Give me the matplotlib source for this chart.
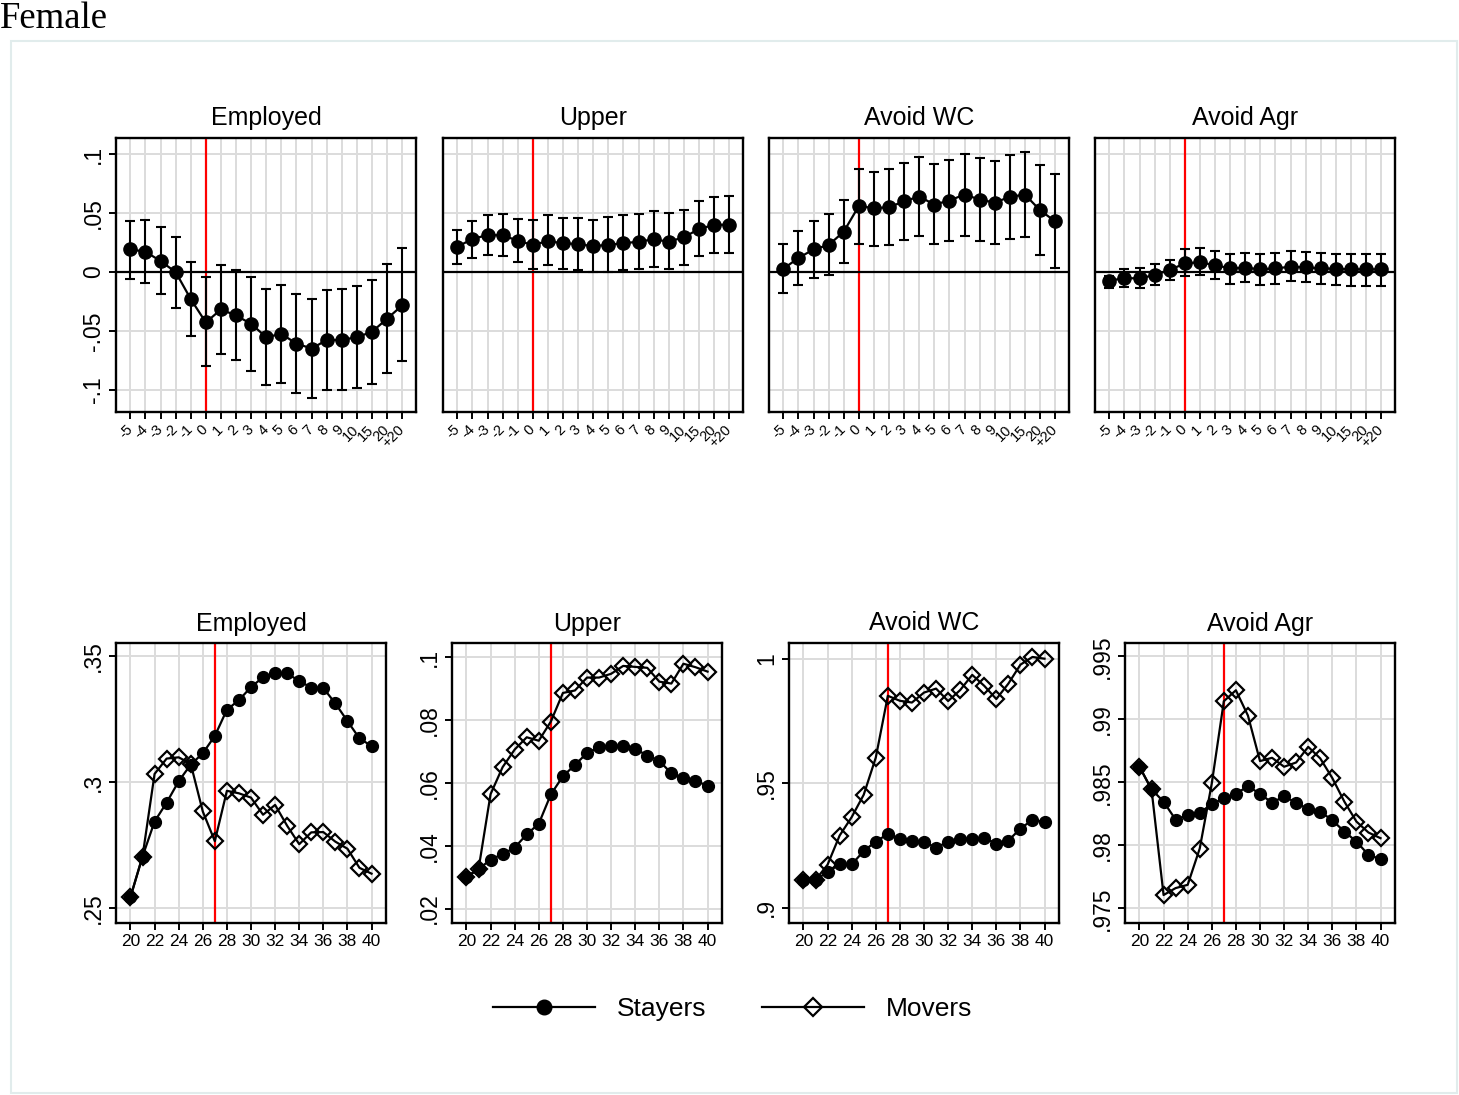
import matplotlib
matplotlib.use("Agg")
import matplotlib.pyplot as plt
from matplotlib.lines import Line2D
from matplotlib.patches import Rectangle
import numpy as np

plt.rcParams['font.family'] = ['Liberation Sans', 'DejaVu Sans']

# ---------------- data: event-study (top row) ----------------
event_labels = ['-5', '-4', '-3', '-2', '-1', '0', '1', '2', '3', '4', '5', '6', '7', '8',
                '9', '10', '15', '20', '+20']
top_titles = ['Employed', 'Upper', 'Avoid WC', 'Avoid Agr']

emp_coef = [0.0192, 0.0173, 0.0093, 0.0000, -0.0229, -0.0427, -0.0317, -0.0368, -0.0439, -0.0552,
            -0.0524, -0.0606, -0.0648, -0.0577, -0.0575, -0.0552, -0.0507, -0.0396, -0.0283]
emp_hi = [0.0436, 0.0444, 0.0379, 0.0300, 0.0085, -0.0040, 0.0059, 0.0017, -0.0040, -0.0144,
          -0.0113, -0.0187, -0.0229, -0.0156, -0.0144, -0.0116, -0.0071, 0.0065, 0.0204]
emp_lo = [-0.0057, -0.0096, -0.0190, -0.0306, -0.0543, -0.0792, -0.0696, -0.0747, -0.0838, -0.0957,
          -0.0937, -0.1024, -0.1070, -0.1002, -0.0996, -0.0979, -0.0945, -0.0852, -0.0756]

up_coef = [0.0215, 0.0280, 0.0314, 0.0311, 0.0266, 0.0229, 0.0263, 0.0243, 0.0238, 0.0218,
           0.0232, 0.0243, 0.0258, 0.0277, 0.0258, 0.0294, 0.0365, 0.0399, 0.0402]
up_hi = [0.0357, 0.0436, 0.0481, 0.0490, 0.0450, 0.0439, 0.0481, 0.0458, 0.0458, 0.0441,
         0.0464, 0.0481, 0.0492, 0.0518, 0.0498, 0.0526, 0.0600, 0.0634, 0.0642]
up_lo = [0.0071, 0.0122, 0.0142, 0.0133, 0.0082, 0.0023, 0.0057, 0.0028, 0.0014, 0.0000,
         0.0000, 0.0014, 0.0028, 0.0045, 0.0023, 0.0057, 0.0133, 0.0158, 0.0164]

wc_coef = [0.0028, 0.0119, 0.0192, 0.0229, 0.0342, 0.0560, 0.0541, 0.0549, 0.0600, 0.0640,
           0.0572, 0.0606, 0.0657, 0.0614, 0.0589, 0.0637, 0.0657, 0.0524, 0.0430]
wc_hi = [0.0238, 0.0348, 0.0436, 0.0490, 0.0608, 0.0877, 0.0852, 0.0872, 0.0928, 0.0976,
         0.0917, 0.0948, 0.1002, 0.0965, 0.0942, 0.0988, 0.1016, 0.0911, 0.0829]
wc_lo = [-0.0175, -0.0110, -0.0048, -0.0028, 0.0074, 0.0238, 0.0224, 0.0232, 0.0274, 0.0308,
         0.0235, 0.0260, 0.0306, 0.0266, 0.0235, 0.0283, 0.0297, 0.0144, 0.0037]

agr_coef = [-0.0074, -0.0051, -0.0054, -0.0025, 0.0017, 0.0074, 0.0082, 0.0059, 0.0031, 0.0037,
            0.0023, 0.0031, 0.0045, 0.0040, 0.0031, 0.0028, 0.0023, 0.0023, 0.0023]
agr_hi = [-0.0031, 0.0023, 0.0031, 0.0068, 0.0105, 0.0198, 0.0204, 0.0181, 0.0153, 0.0164,
          0.0150, 0.0161, 0.0181, 0.0170, 0.0164, 0.0156, 0.0156, 0.0156, 0.0156]
agr_lo = [-0.0139, -0.0125, -0.0139, -0.0113, -0.0068, -0.0034, -0.0025, -0.0059, -0.0099, -0.0088,
          -0.0108, -0.0099, -0.0074, -0.0088, -0.0099, -0.0108, -0.0119, -0.0119, -0.0119]

top_coefs = [emp_coef, up_coef, wc_coef, agr_coef]
top_his = [emp_hi, up_hi, wc_hi, agr_hi]
top_los = [emp_lo, up_lo, wc_lo, agr_lo]
top_yticks = [-0.1, -0.05, 0, 0.05, 0.1]
top_yticklabels = ['-.1', '-.05', '0', '.05', '.1']

# ---------------- data: age profiles (bottom row) ----------------
ages = list(range(20, 41))
bottom_titles = ['Employed', 'Upper', 'Avoid WC', 'Avoid Agr']

emp_stayers = [0.2544, 0.2705, 0.2844, 0.2919, 0.3004, 0.3070, 0.3115, 0.3184, 0.3288, 0.3326, 0.3378,
               0.3417, 0.3432, 0.3432, 0.3402, 0.3376, 0.3374, 0.3313, 0.3243, 0.3174, 0.3144]
emp_movers = [0.2544, 0.2705, 0.3033, 0.3094, 0.3099, 0.3073, 0.2884, 0.2766, 0.2966, 0.2956, 0.2939,
              0.2871, 0.2910, 0.2827, 0.2754, 0.2801, 0.2802, 0.2764, 0.2736, 0.2660, 0.2637]

up_stayers = [0.0301, 0.0325, 0.0356, 0.0373, 0.0394, 0.0436, 0.0470, 0.0563, 0.0621, 0.0657, 0.0695,
              0.0713, 0.0717, 0.0718, 0.0708, 0.0687, 0.0670, 0.0630, 0.0615, 0.0606, 0.0591]
up_movers = [0.0301, 0.0325, 0.0564, 0.0650, 0.0706, 0.0745, 0.0734, 0.0795, 0.0886, 0.0894, 0.0935,
             0.0935, 0.0947, 0.0972, 0.0969, 0.0966, 0.0922, 0.0916, 0.0979, 0.0968, 0.0954]

wc_stayers = [0.9112, 0.9112, 0.9144, 0.9174, 0.9174, 0.9228, 0.9266, 0.9296, 0.9277, 0.9268, 0.9265,
              0.9241, 0.9266, 0.9277, 0.9278, 0.9281, 0.9257, 0.9270, 0.9318, 0.9353, 0.9344]
wc_movers = [0.9112, 0.9112, 0.9173, 0.9290, 0.9364, 0.9454, 0.9603, 0.9851, 0.9831, 0.9824, 0.9864,
             0.9880, 0.9830, 0.9874, 0.9935, 0.9891, 0.9838, 0.9900, 0.9976, 1.0007, 1.0000]

agr_stayers = [0.98624, 0.98445, 0.98347, 0.98204, 0.98239, 0.98257, 0.98329, 0.98373, 0.98408, 0.98471,
               0.98408, 0.98339, 0.98389, 0.98339, 0.98286, 0.98268, 0.98199, 0.98110, 0.98030, 0.97925,
               0.97891]
agr_movers = [0.98624, 0.98445, 0.97606, 0.97661, 0.97687, 0.97975, 0.98492, 0.99144, 0.99231, 0.99030,
              0.98669, 0.98695, 0.98624, 0.98658, 0.98782, 0.98690, 0.98534, 0.98347, 0.98189, 0.98102,
              0.98057]

bottom_stayers = [emp_stayers, up_stayers, wc_stayers, agr_stayers]
bottom_movers = [emp_movers, up_movers, wc_movers, agr_movers]
bottom_yticks = [[0.25, 0.30, 0.35], [0.02, 0.04, 0.06, 0.08, 0.10], [0.90, 0.95, 1.00],
                 [0.975, 0.980, 0.985, 0.990, 0.995]]
bottom_yticklabels = [['.25', '.3', '.35'], ['.02', '.04', '.06', '.08', '.1'], ['.9', '.95', '1'],
                      ['.975', '.98', '.985', '.99', '.995']]
bottom_ylims = [(0.2441, 0.3553), (0.0154, 0.1045), (0.8939, 1.0063), (0.97384, 0.99606)]
age_ticks = list(range(20, 41, 2))
move_age = 27
legend_labels = ['Stayers', 'Movers']
fig_title = 'Female'

# ---------------- figure ----------------
W, H = 1459, 1095
fig = plt.figure(figsize=(W / 100, H / 100), dpi=100)

def fbox(x0, y0, x1, y1):
    return [x0 / W, 1 - y1 / H, (x1 - x0) / W, (y1 - y0) / H]

GRID = '#dcdcdc'

# outer frame
fig.add_artist(Rectangle((11 / W, 1 - 1093 / H), (1457 - 11) / W, (1093 - 41) / H,
                         transform=fig.transFigure, fill=False, edgecolor='#e1ecec', lw=1.5))
fig.text(0.0, 1 - 1 / H, fig_title, family=['Liberation Serif', 'DejaVu Serif'], fontsize=26.5,
         ha='left', va='top')

top_lefts = [116, 443, 769, 1095]
xpos = np.arange(len(event_labels))
zero_idx = event_labels.index('0')
for i in range(4):
    ax = fig.add_axes(fbox(top_lefts[i], 138, top_lefts[i] + 300, 412))
    coef = np.array(top_coefs[i]); hi = np.array(top_his[i]); lo = np.array(top_los[i])
    ax.set_xlim(-0.95, len(event_labels) - 1 + 0.92)
    ax.set_ylim(-0.1186, 0.1136)
    ax.set_xticks(xpos)
    ax.set_yticks(top_yticks)
    ax.grid(True, color=GRID, lw=1.4)
    ax.set_axisbelow(True)
    ax.axvline(zero_idx, color='#ff0000', lw=1.6, zorder=2)
    ax.axhline(0, color='black', lw=1.6, zorder=2)
    ax.errorbar(xpos, coef, yerr=[np.abs(coef - lo), np.abs(hi - coef)], fmt='none',
                ecolor='black', elinewidth=1.5, capsize=3.8, capthick=1.5, zorder=3)
    ax.plot(xpos, coef, '-o', color='black', lw=1.6, ms=9.5, zorder=4)
    ax.set_xticklabels(event_labels, rotation=45, ha='right', va='center',
                       rotation_mode='anchor', fontsize=10.5)
    ax.tick_params(axis='x', length=5, width=1.4, pad=6)
    if i == 0:
        ax.set_yticklabels(top_yticklabels, fontsize=16.5, rotation=90, va='center')
        ax.tick_params(axis='y', length=5, width=1.4, pad=3)
    else:
        ax.set_yticklabels([])
        ax.tick_params(axis='y', length=0)
    for sp in ax.spines.values():
        sp.set_linewidth(1.7)
    ax.set_title(top_titles[i], fontsize=18, pad=9)

bot_lefts = [116, 452, 789, 1125]
for i in range(4):
    ax = fig.add_axes(fbox(bot_lefts[i], 643, bot_lefts[i] + 270, 923))
    ax.set_xlim(18.8, 41.2)
    ax.set_ylim(*bottom_ylims[i])
    ax.set_xticks(age_ticks)
    ax.set_yticks(bottom_yticks[i])
    ax.grid(True, color=GRID, lw=1.4)
    ax.set_axisbelow(True)
    ax.axvline(move_age, color='#ff0000', lw=1.6, zorder=2)
    ax.plot(ages, bottom_stayers[i], '-o', color='black', lw=1.6, ms=8.5, zorder=3)
    ax.plot(ages, bottom_movers[i], '-D', color='black', lw=1.6, ms=8, mfc='none', mew=1.6,
            zorder=4)
    ax.set_xticklabels([str(a) for a in age_ticks], fontsize=12.5)
    ax.set_yticklabels(bottom_yticklabels[i], fontsize=16.5, rotation=90, va='center')
    ax.tick_params(axis='x', length=5, width=1.4, pad=3)
    ax.tick_params(axis='y', length=5, width=1.4, pad=3)
    for sp in ax.spines.values():
        sp.set_linewidth(1.7)
    ax.set_title(bottom_titles[i], fontsize=18, pad=9)

handles = [Line2D([], [], color='black', lw=1.6, marker='o', ms=10.5),
           Line2D([], [], color='black', lw=1.6, marker='D', ms=9, mfc='none', mew=1.6)]
fig.legend(handles, legend_labels, loc='center', bbox_to_anchor=(0.502, 1 - 1009 / H), ncol=2,
           frameon=False, fontsize=19, handlelength=3.86, handletextpad=0.83,
           columnspacing=2.1)

fig.savefig('out.png', dpi=100)
